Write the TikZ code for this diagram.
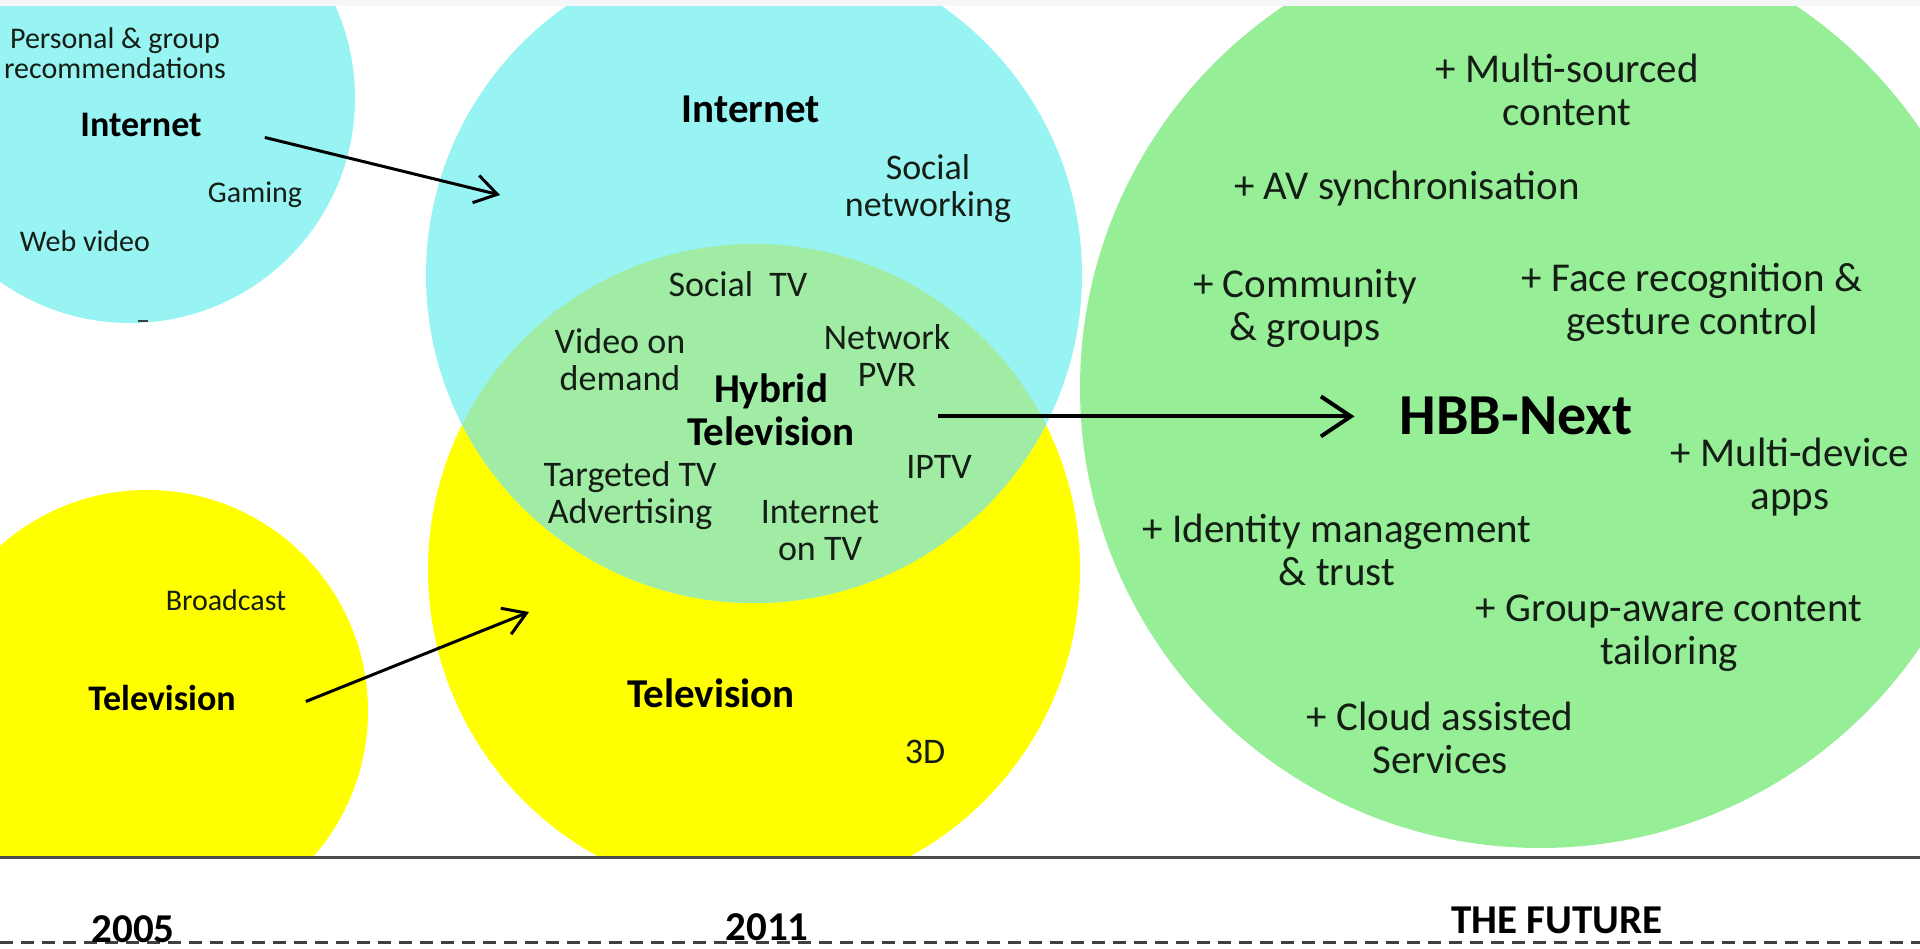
\documentclass[tikz,border=0pt]{standalone}
\usepackage{fontspec}
\setmainfont{Carlito}
\usetikzlibrary{arrows.meta}

\definecolor{netcyan}{RGB}{152,243,243}
\definecolor{tvyellow}{RGB}{255,255,0}
\definecolor{hybridgreen}{RGB}{160,236,165}
\definecolor{futuregreen}{RGB}{150,238,150}
\definecolor{inkdark}{RGB}{20,30,20}
\definecolor{topgray}{RGB}{244,246,248}

\begin{document}
\begin{tikzpicture}[x=1pt,y=1pt,yscale=-1,
    blob/.style={circle,inner sep=0pt,outer sep=0pt},
    txtsmall/.style={inner sep=0pt,text=inkdark,align=center,font=\fontsize{30}{30}\selectfont},
    txtmid/.style={inner sep=0pt,text=inkdark,align=center,font=\fontsize{36}{37}\selectfont},
    txtbig/.style={inner sep=0pt,text=inkdark,align=center,font=\fontsize{41}{43}\selectfont},
    txttitle/.style={inner sep=0pt,text=black,align=center,font=\bfseries\fontsize{#1}{43}\selectfont},
    flow/.style={-{Straight Barb[length=22pt,width=28pt]},line width=3pt}]
    \useasboundingbox (0,0) rectangle (1920,949);

    % circles, cut at the time line
    \begin{scope}
    \clip (0,6) rectangle (1920,857);
    \node[blob,fill=netcyan,minimum size=450pt] (net05c) at (130,98) {};
    \node[blob,fill=tvyellow,minimum size=442pt] (tv05c) at (147,711) {};
    \node[blob,fill=tvyellow,minimum size=652pt] (tv11c) at (754,570) {};
    \node[blob,fill=netcyan,minimum size=656pt] (net11c) at (754,275) {};
    \begin{scope}
    \clip (net11c.center) circle (328pt);
    \fill[hybridgreen] (tv11c.center) circle (326pt);
    \end{scope}
    \node[blob,fill=futuregreen,minimum size=920pt] (futc) at (1540,388) {};
    \end{scope}
    \fill[topgray] (0,0) rectangle (1920,6);

    % 2005
    \node[txtsmall] (rec05) at (115,53) {Personal \& group\\recommendations};
    \node[txttitle=36,anchor=base] (net05) at (141,137) {Internet};
    \node[txtsmall,anchor=base] (gaming) at (255,203) {Gaming};
    \node[txtsmall,anchor=base] (webvid) at (85,252) {Web video};
    \draw[line width=2.5pt,draw=black!75] (138,321) -- (148,321);
    \node[txtsmall,anchor=base] (bcast) at (226,610) {Broadcast};
    \node[txttitle=36,anchor=base] (tv05) at (162,710) {Television};

    % 2011
    \node[txttitle=41,anchor=base] (net11) at (751,123) {Internet};
    \node[txtmid] (socnet) at (928,189) {Social\\networking};
    \node[txtmid,anchor=base] (soctv) at (738,297) {Social\ \ TV};
    \node[txtmid] (vod) at (620,360) {Video on\\demand};
    \node[txtmid] (npvr) at (887,356) {Network\\PVR};
    \node[txttitle=41] (hybrid) at (771,410) {Hybrid\\Television};
    \node[txtmid] (target) at (630,496) {Targeted TV\\Advertising};
    \node[txtmid,anchor=base] (iptv) at (939,478) {IPTV};
    \node[txtmid] (inettv) at (820,531) {Internet\\on TV};
    \node[txttitle=41,anchor=base] (tv11) at (711,707) {Television};
    \node[txtmid,anchor=base] (threed) at (925,763) {3D};

    % the future
    \node[txtbig] (multisrc) at (1567,90) {+ Multi-sourced\\content};
    \node[txtbig,anchor=base] (avsync) at (1407,200) {+ AV synchronisation};
    \node[txtbig] (community) at (1305,308) {+ Community\\\& groups};
    \node[txtbig] (face) at (1692,302) {+ Face recognition \&\\gesture control};
    \node[txttitle=58,anchor=base] (hbb) at (1516,435) {HBB-Next};
    \node[txtbig] (multidev) at (1790,477) {+ Multi-device\\apps};
    \node[txtbig] (identity) at (1337,550) {+ Identity management\\\& trust};
    \node[txtbig] (groupaware) at (1669,633) {+ Group-aware content\\tailoring};
    \node[txtbig] (cloud) at (1440,738) {+ Cloud assisted\\Services};

    % arrows
    \coordinate (netTip) at (500,195);
    \coordinate (tvTip) at (529,612);
    \draw[flow] (net05.east) ++(63,12) -- (netTip);
    \draw[flow] (tv05.east) ++(70,4) -- (tvTip);
    \draw[flow,-{Straight Barb[length=30pt,width=40pt]},line width=4pt,shorten <=83pt,shorten >=45pt] (hybrid.east |- hbb.west) -- (hbb.west);

    % time line
    \draw[line width=3pt,draw=black!70] (0,857) -- (1920,857);
    \draw[line width=3pt,draw=black!75,dash pattern=on 13pt off 8pt] (0,942) -- (1920,942);
    \node[txttitle=41,anchor=base] (y2005) at (133,942) {2005};
    \node[txttitle=41,anchor=base] (y2011) at (767,940) {2011};
    \node[txttitle=41,anchor=base] (yfuture) at (1557,933) {THE FUTURE};
\end{tikzpicture}
\end{document}
